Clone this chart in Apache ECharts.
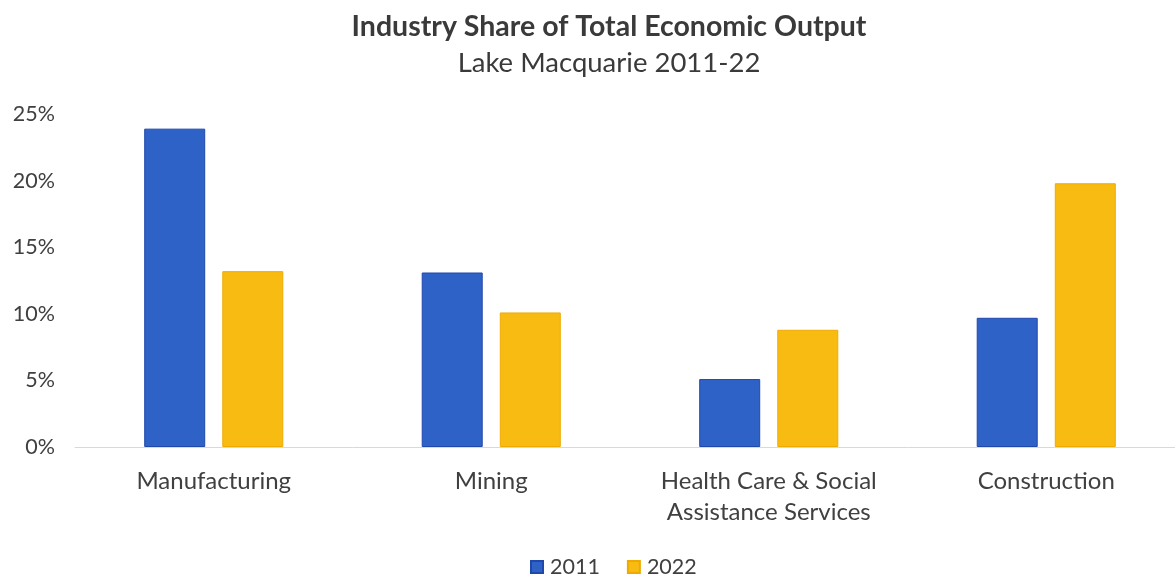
<!DOCTYPE html>
<html>
<head>
<meta charset="utf-8">
<script src="https://cdn.jsdelivr.net/npm/echarts@6/dist/echarts.min.js"></script>
<style>
  html, body { margin: 0; padding: 0; background: #ffffff; overflow: hidden; }
  #chart { width: 1200px; height: 575px; }
</style>
</head>
<body>
<div id="chart"></div>
<script>
// Industry share of total economic output, Lake Macquarie (percent)
const categories = ['Manufacturing', 'Mining', 'Health Care & Social\nAssistance Services', 'Construction'];
const seriesNames = ['2011', '2022'];
const values2011 = [23.9, 13.1, 5.1, 9.7];
const values2022 = [13.2, 10.1, 8.8, 19.8];
const yTicks = { min: 0, max: 25, interval: 5 };

const FONT = 'Lato, "Open Sans", sans-serif';
const TEXT = '#404040';

const chart = echarts.init(document.getElementById('chart'), null, { renderer: 'canvas' });

chart.setOption({
  backgroundColor: '#ffffff',
  animation: false,
  title: [
    {
      text: 'Industry Share of Total Economic Output',
      left: 604, top: 7, textAlign: 'center',
      textStyle: { fontFamily: FONT, fontSize: 28.5, fontWeight: 'bold', color: '#3a3a3a' }
    },
    {
      text: 'Lake Macquarie 2011-22',
      left: 604, top: 44, textAlign: 'center',
      textStyle: { fontFamily: FONT, fontSize: 27.5, fontWeight: 'normal', color: '#3a3a3a' }
    }
  ],
  legend: {
    data: seriesNames,
    left: 525, top: 551,
    itemWidth: 12, itemHeight: 12, itemGap: 27,
    icon: 'rect',
    textStyle: { fontFamily: FONT, fontSize: 21.5, color: TEXT, padding: [0, 0, 0, 2] }
  },
  grid: { left: 75, top: 114, width: 1110, height: 333, containLabel: false },
  xAxis: {
    type: 'category',
    data: categories,
    axisLine: { lineStyle: { color: '#d9d9d9', width: 1 } },
    axisTick: { show: false },
    axisLabel: { fontFamily: FONT, fontSize: 24, color: TEXT, margin: 19, lineHeight: 31, interval: 0 }
  },
  yAxis: {
    type: 'value',
    min: yTicks.min, max: yTicks.max, interval: yTicks.interval,
    axisLine: { show: false },
    axisTick: { show: false },
    splitLine: { show: false },
    axisLabel: { fontFamily: FONT, fontSize: 21.5, color: TEXT, margin: 20, formatter: '{value}%' }
  },
  series: [
    {
      name: seriesNames[0], type: 'bar', data: values2011,
      barWidth: 61, barGap: '28%',
      itemStyle: { color: '#2f62c6', borderColor: '#1f48ad', borderWidth: 1 }
    },
    {
      name: seriesNames[1], type: 'bar', data: values2022,
      barWidth: 61,
      itemStyle: { color: '#f8bb12', borderColor: '#efaa00', borderWidth: 1 }
    }
  ]
});
</script>
</body>
</html>
